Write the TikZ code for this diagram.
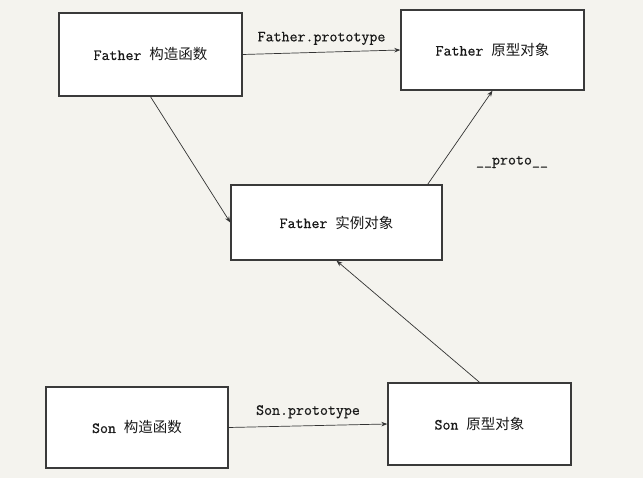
\documentclass[tikz,border=0pt]{standalone}
\usepackage{fontspec}
\newfontfamily\cjk{Noto Sans CJK SC}
\newfontfamily\monob{Latin Modern Mono}[FakeBold=0.6]
\usetikzlibrary{arrows.meta}
\definecolor{bgc}{HTML}{F4F3EE}
\definecolor{edgec}{HTML}{3A3A3A}
\newcommand{\lt}[1]{{\fontsize{15.5}{17}\selectfont\monob #1}}
\newcommand{\zh}[1]{{\fontsize{14.5}{17}\selectfont\cjk #1}}
\tikzset{
  box/.style={draw=edgec, line width=1.4pt, fill=white, minimum width=#1, inner sep=0pt},
  conn/.style={draw=black!80, line width=0.7pt, -{Stealth[length=6pt,width=4.5pt]}},
  lbl/.style={inner sep=0pt, text=black!90}
}
\begin{document}
\begin{tikzpicture}[x=1pt,y=-1pt]
\fill[bgc] (0,0) rectangle (643,478);
\useasboundingbox (0,0) rectangle (643,478);

\node[box=183pt, minimum height=83pt, text=black!90] (fc) at (150.5,54.5) {\lt{Father}\lt{\ }\zh{构造函数}};
\node[box=183pt, minimum height=80pt, text=black!90] (fp) at (492.5,50) {\lt{Father}\lt{\ }\zh{原型对象}};
\node[box=211pt, minimum height=75pt, text=black!90] (fi) at (336.5,222.5) {\lt{Father}\lt{\ }\zh{实例对象}};
\node[box=182pt, minimum height=81pt, text=black!90] (sc) at (137,427.5) {\lt{Son}\lt{\ }\zh{构造函数}};
\node[box=183pt, minimum height=82pt, text=black!90] (sp) at (479.5,424) {\lt{Son}\lt{\ }\zh{原型对象}};

\draw[conn] (fc.east) -- node[lbl, midway, above=7pt] (fpl) {\lt{Father.prototype}} (fp.west);
\draw[conn] (sc.east) -- node[lbl, midway, above=7pt] (spl) {\lt{Son.prototype}} (sp.west);
\draw[conn] (fc.south) -- (fi.west);
\draw[conn] ([xshift=-15pt]fi.north east) -- (fp.south);
\draw[conn] (sp.north) -- (fi.south);

\node[lbl] (proto) at (512,162) {\lt{\_\_proto\_\_}};
\end{tikzpicture}
\end{document}
